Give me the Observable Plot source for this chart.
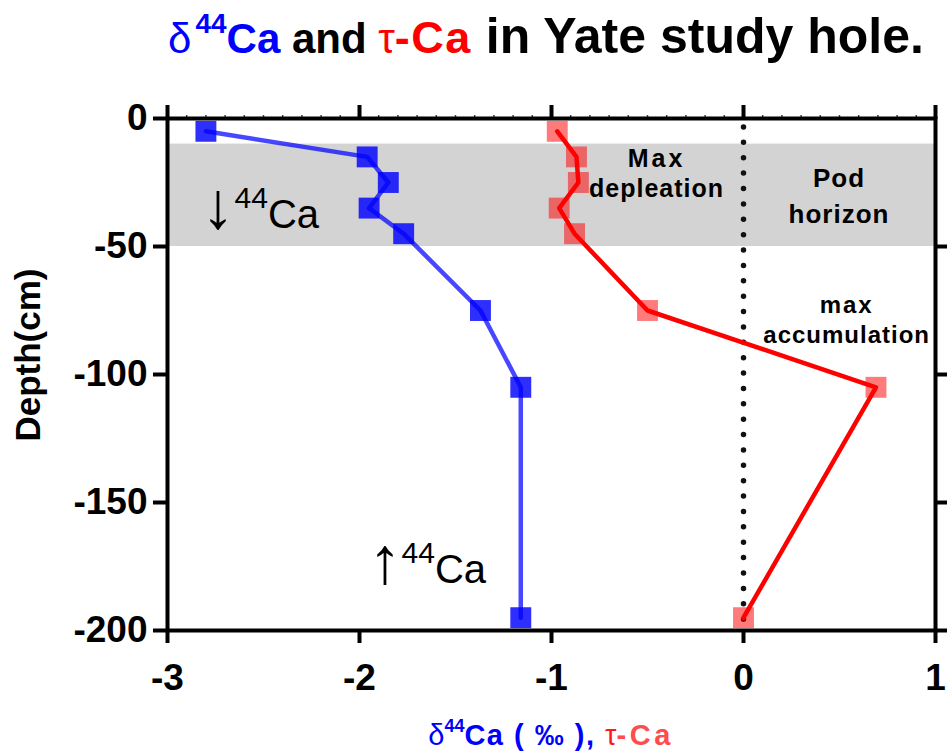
<!DOCTYPE html>
<html><head><meta charset="utf-8">
<script src="https://cdn.jsdelivr.net/npm/d3@7"></script>
<script src="https://cdn.jsdelivr.net/npm/@observablehq/plot@0.6"></script>
<style>
body{margin:0;background:#fff;font-family:"Liberation Sans",Arial,sans-serif;}
#wrap{width:947px;height:753px;overflow:hidden;}
svg{display:block;}
</style></head><body><div id="wrap"></div>
<script>
// ---- data ----
const depths = [-5, -15, -25, -35, -45, -75, -105, -195];
const delta44Ca = [-2.80, -1.96, -1.85, -1.95, -1.77, -1.37, -1.16, -1.16];
const tauCa = [-0.97, -0.87, -0.86, -0.96, -0.88, -0.50, 0.69, 0.00];
const xDomain = [-3, 1];
const yDomain = [-200, 0];
const xTicks = [-3, -2, -1, 0, 1];
const xMinorTicks = d3.range(-30, 11).map(d => d / 10);
const yTicks = [0, -50, -100, -150, -200];
const yRightTicks = [-50, -100, -150, -200];
const podHorizon = [{top: -10, bottom: -50}];
const labelMax = {x: -0.45, y: [-19.1, -30.9], lines: ["Max", "depleation"]};
const labelPod = {x: 0.50, y: [-27, -41.2], lines: ["Pod", "horizon"]};
const labelAcc = {x: 0.54, y: [-76.2, -87.9], lines: ["max", "accumulation"]};
const arrowDown = {x: -2.82, y: -43, arrow: "\u2193"};
const arrowUp = {x: -1.95, y: -181.6, arrow: "\u2191"};

const blue = depths.map((d, i) => ({depth: d, value: delta44Ca[i]}));
const red = depths.map((d, i) => ({depth: d, value: tauCa[i]}));

const FONT = '"Liberation Sans", Arial, sans-serif';
const W = 947, H = 683;

// ---- title (above the plot) ----
const tsvg = d3.create("svg").attr("width", W).attr("height", 70).attr("font-family", FONT);
const tt = tsvg.append("text").attr("x", 168).attr("y", 53).attr("font-weight", "bold").attr("text-anchor", "start");
tt.append("tspan").attr("fill", "#0000ff").attr("font-weight", "normal").attr("font-size", 42).text("\u03b4");
tt.append("tspan").attr("fill", "#0000ff").attr("font-size", 28).attr("dx", 4).attr("dy", -20).text("44");
tt.append("tspan").attr("fill", "#0000ff").attr("font-size", 42).attr("dy", 20).text("Ca");
tt.append("tspan").attr("fill", "#000").attr("font-size", 42).text(" and ");
tt.append("tspan").attr("fill", "#ff0000").attr("font-weight", "normal").attr("font-size", 42).text("\u03c4");
tt.append("tspan").attr("fill", "#ff0000").attr("font-size", 45).attr("letter-spacing", 1.5).text("-Ca");
tt.append("tspan").attr("fill", "#000").attr("font-size", 50).text(" in Yate study hole.");
document.getElementById("wrap").append(tsvg.node());

// ---- plot ----
const plot = Plot.plot({
  width: W, height: H,
  marginTop: 48, marginBottom: 123, marginLeft: 167, marginRight: 12,
  x: {domain: xDomain},
  y: {domain: yDomain},
  style: {fontFamily: FONT, color: "black", background: "white", overflow: "visible"},
  marks: [
    Plot.rect(podHorizon, {y1: "top", y2: "bottom", fill: "#d3d3d3"}),
    Plot.ruleX([0], {stroke: "#111", strokeWidth: 5.5, strokeDasharray: "0 15.38", strokeDashoffset: 6.4, strokeLinecap: "round"}),
    Plot.dot(blue, {x: "value", y: "depth", symbol: "square", r: 11.8, fill: "#0000ff", fillOpacity: 0.82}),
    Plot.dot(red, {x: "value", y: "depth", symbol: "square", r: 11.8, fill: "#ff0000", fillOpacity: 0.52}),
    Plot.line(blue, {x: "value", y: "depth", stroke: "#0000ff", strokeOpacity: 0.72, strokeWidth: 4.5}),
    Plot.line(red, {x: "value", y: "depth", stroke: "#ff0000", strokeWidth: 4.5}),
    Plot.axisX({anchor: "top", ticks: xMinorTicks, tickSize: 4, strokeWidth: 1.5, stroke: "#444", tickFormat: () => "", label: null}),
    Plot.axisX({anchor: "top", ticks: xTicks, tickSize: 14, strokeWidth: 4, tickFormat: () => "", label: null}),
    Plot.axisX({anchor: "bottom", ticks: xTicks, tickSize: 13, strokeWidth: 4, tickPadding: 20, fontSize: 37, fontWeight: "bold", tickFormat: d => String(d), label: null}),
    Plot.axisY({anchor: "left", ticks: yTicks, tickSize: 14, strokeWidth: 4, tickPadding: 6, fontSize: 37, fontWeight: "bold", tickFormat: d => String(d), label: null}),
    Plot.axisY({anchor: "right", ticks: yRightTicks, tickSize: 12, strokeWidth: 4, tickFormat: () => "", label: null}),
    Plot.frame({stroke: "black", strokeWidth: 4})
  ]
});
document.getElementById("wrap").append(plot);

// ---- annotations placed through the plot's scales ----
const sx = plot.scale("x"), sy = plot.scale("y");
const xs = d3.scaleLinear(sx.domain, sx.range);
const ys = d3.scaleLinear(sy.domain, sy.range);
const svg = d3.select(plot);
const g = svg.append("g").attr("font-family", FONT);

function block(lab, size, spacing) {
  lab.lines.forEach((t, i) => {
    g.append("text").attr("x", xs(lab.x)).attr("y", ys(lab.y[i]))
      .attr("text-anchor", "middle").attr("font-weight", "bold").attr("font-size", size)
      .attr("letter-spacing", spacing[i]).attr("fill", "#000").text(t);
  });
}
block(labelMax, 25, [3, 1]);
block(labelPod, 26, [1, 1]);
block(labelAcc, 24, [2, 1]);

function arrowLabel(a) {
  const t = g.append("text").attr("x", xs(a.x)).attr("y", ys(a.y)).attr("fill", "#000").attr("text-anchor", "start");
  t.append("tspan").attr("font-size", 66).text(a.arrow);
  t.append("tspan").attr("font-size", 30).attr("dy", -20).text("44");
  t.append("tspan").attr("font-size", 40).attr("dy", 20).text("Ca");
}
arrowLabel(arrowDown);
arrowLabel(arrowUp);

// y-axis title
g.append("text").attr("transform", `translate(40,${(sy.range[0] + sy.range[1]) / 2 - 19}) rotate(-90)`)
  .attr("text-anchor", "middle").attr("font-weight", "bold").attr("font-size", 35).attr("fill", "#000").text("Depth(cm)");

// x-axis title
const xl = g.append("text").attr("x", (sx.range[0] + sx.range[1]) / 2).attr("y", H - 8)
  .attr("text-anchor", "middle").attr("font-weight", "bold").attr("font-size", 29);
xl.append("tspan").attr("fill", "#0000ff").attr("font-weight", "normal").text("\u03b4");
xl.append("tspan").attr("fill", "#0000ff").attr("font-size", 18).attr("dy", -13).text("44");
xl.append("tspan").attr("fill", "#0000ff").attr("dy", 13).attr("letter-spacing", 1.5).text("Ca ( \u2030 ), ");
xl.append("tspan").attr("fill", "#ff1a1a").attr("font-weight", "normal").text("\u03c4");
xl.append("tspan").attr("fill", "#ff4d4d").attr("letter-spacing", 3.5).text("-Ca");
</script></body></html>
